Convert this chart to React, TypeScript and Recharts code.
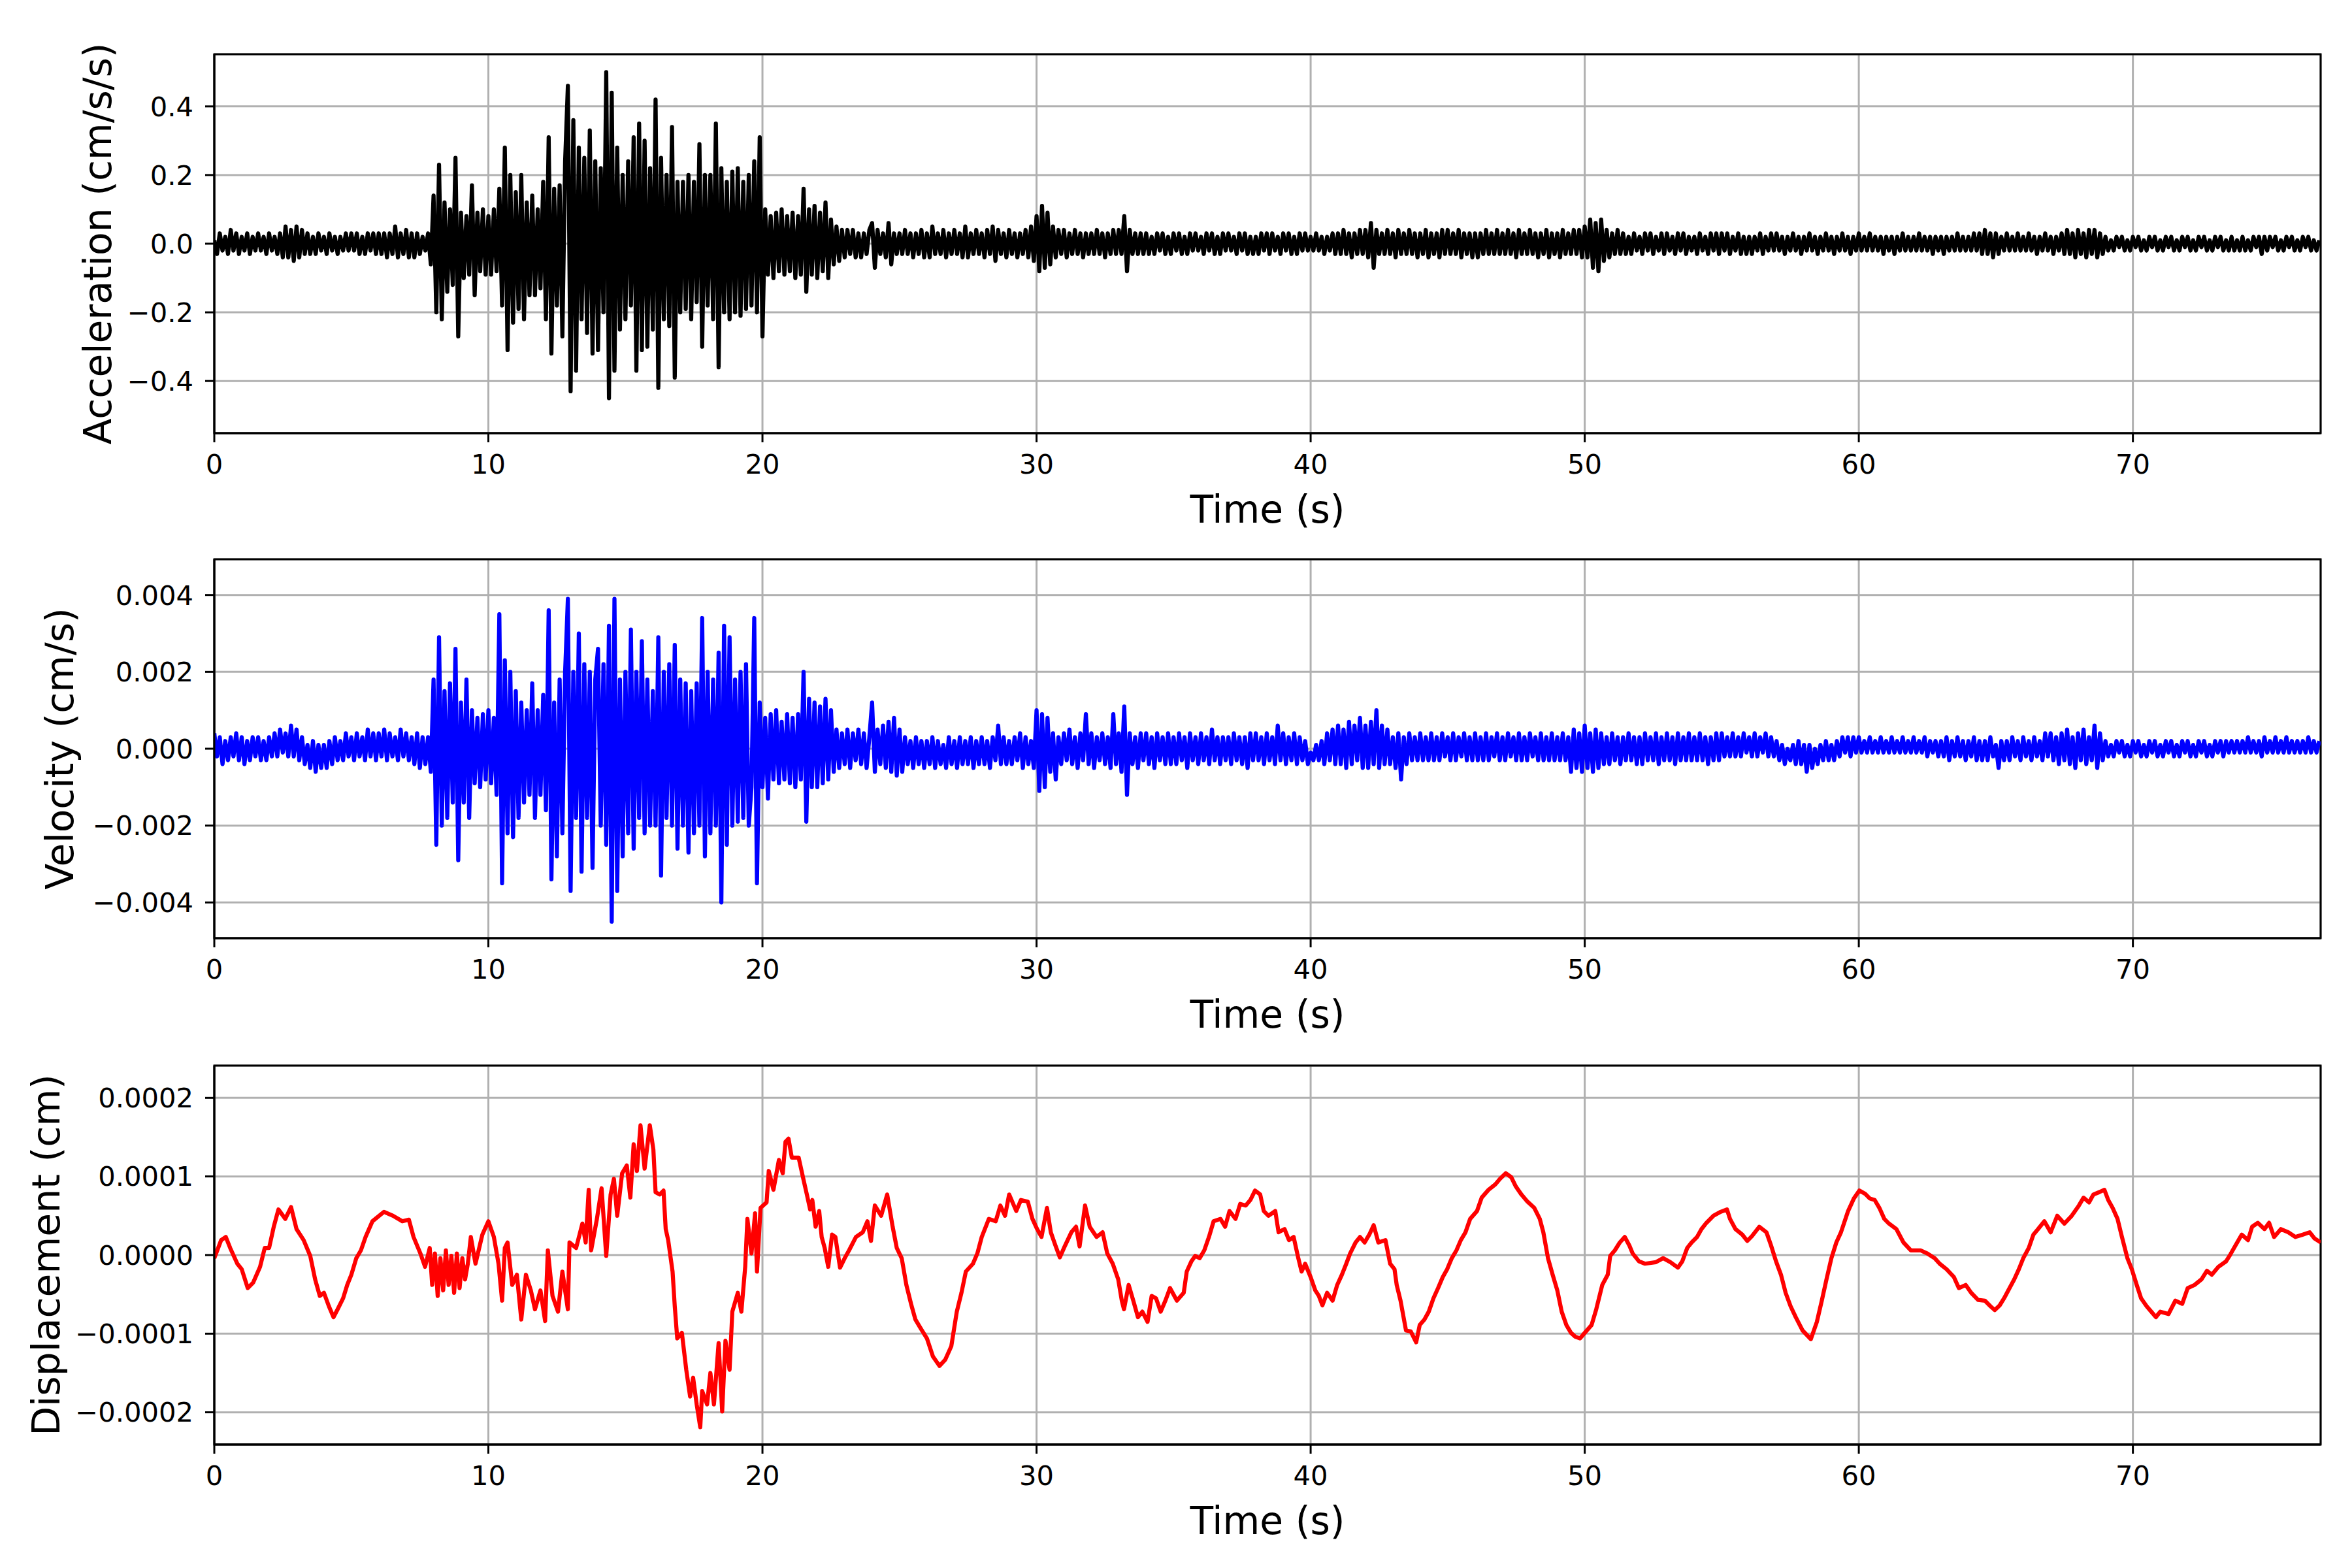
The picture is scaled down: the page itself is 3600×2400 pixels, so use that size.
import React from "react";
import {
  LineChart,
  Line,
  XAxis,
  YAxis,
  CartesianGrid,
  ReferenceArea,
  Label,
} from "recharts";

const FONT = "DejaVu Sans";
const X_TICKS = [0, 10, 20, 30, 40, 50, 60, 70];
const X_MAX = 76.85;
const SAMPLE_STEP = 0.1; // s, for acceleration and velocity

// acceleration, in 0.01 cm/s/s, one line per second
const ACCEL = [
  1, -3, 3, -2, 2, -3, 4, -2, 3, -3,
  2, -2, 3, -3, 2, -2, 3, -2, 2, -3,
  3, -2, 2, -3, 3, -4, 5, -4, 4, -5,
  5, -4, 4, -3, 3, -3, 2, -3, 3, -2,
  2, -3, 3, -2, 2, -3, 2, -2, 3, -2,
  3, -2, 3, -3, 2, -3, 3, -2, 3, -3,
  3, -3, 3, -4, 3, -3, 5, -4, 3, -3,
  4, -4, 3, -4, 3, -3, 2, -2, 3, -6,
  14, -20, 23, -22, 12, -14, 10, -12, 25, -27,
  9, -10, 8, -9, 17, -15, 9, -8, 10, -9,
  8, -9, 10, -8, 16, -18, 28, -31, 20, -23,
  15, -19, 20, -22, 12, -15, 14, -15, 10, -13,
  18, -22, 31, -32, 16, -18, 17, -27, 24, 46,
  -43, 36, -37, 28, -22, 25, -26, 33, -32, 24,
  -31, 22, -20, 50, -45, 44, -37, 28, -25, 20,
  -22, 24, -18, 31, -37, 35, -31, 30, -30, 22,
  -25, 42, -42, 25, -22, 20, -24, 34, -39, 18,
  -20, 18, -19, 20, -22, 18, -17, 29, -30, 20,
  -18, 20, -22, 35, -36, 22, -20, 18, -22, 21,
  -20, 22, -21, 18, -19, 20, -18, 24, -20, 31,
  -27, 10, -9, 8, -10, 9, -8, 10, -9, 8,
  -8, 9, -10, 8, -9, 16, -14, 10, -9, 11,
  -10, 9, -8, 12, -10, 7, -6, 5, -5, 4,
  -4, 4, -3, 4, -4, 3, -4, 3, -3, 4,
  6, -7, 4, -3, 3, -4, 6, -6, 3, -3,
  3, -3, 4, -3, 3, -4, 3, -3, 4, -4,
  3, -4, 5, -3, 3, -3, 4, -4, 3, -3,
  4, -3, 3, -4, 5, -4, 3, -3, 4, -3,
  3, -4, 4, -3, 5, -5, 4, -3, 3, -4,
  4, -3, 3, -4, 3, -3, 4, -4, 5, -5,
  8, -8, 11, -7, 9, -6, 5, -4, 4, -3,
  4, -4, 3, -3, 4, -3, 3, -4, 3, -3,
  3, -3, 4, -3, 3, -4, 3, -3, 4, -3,
  4, -3, 8, -8, 4, -3, 3, -3, 3, -3,
  3, -3, 2, -3, 3, -2, 3, -3, 2, -3,
  3, -2, 3, -3, 2, -3, 3, -2, 3, -2,
  2, -3, 3, -2, 3, -3, 2, -3, 3, -2,
  3, -2, 2, -3, 3, -2, 3, -3, 2, -3,
  2, -3, 3, -2, 3, -3, 3, -2, 2, -3,
  3, -2, 3, -3, 2, -3, 3, -2, 3, -2,
  2, -2, 3, -2, 2, -3, 2, -2, 3, -3,
  3, -3, 4, -3, 3, -4, 3, -3, 4, -3,
  4, -4, 6, -7, 4, -3, 3, -3, 4, -3,
  3, -4, 4, -3, 3, -3, 4, -3, 3, -4,
  3, -3, 4, -4, 3, -3, 3, -4, 4, -3,
  4, -3, 3, -3, 4, -4, 3, -3, 3, -4,
  3, -4, 3, -3, 4, -3, 3, -3, 4, -3,
  3, -3, 4, -3, 3, -4, 4, -3, 3, -3,
  4, -3, 3, -4, 3, -3, 4, -4, 3, -3,
  3, -4, 4, -3, 3, -3, 4, -3, 4, -4,
  5, -4, 7, -7, 6, -8, 7, -5, 4, -4,
  3, -3, 4, -3, 3, -3, 2, -3, 3, -2,
  2, -3, 3, -2, 3, -3, 2, -2, 3, -3,
  3, -2, 2, -3, 3, -2, 3, -3, 2, -2,
  2, -3, 3, -2, 2, -3, 3, -2, 3, -3,
  3, -2, 3, -3, 2, -2, 3, -3, 2, -3,
  2, -3, 2, -2, 3, -3, 2, -2, 3, -2,
  3, -2, 2, -3, 2, -2, 3, -2, 2, -3,
  2, -2, 3, -2, 2, -3, 2, -2, 3, -2,
  2, -3, 2, -2, 3, -2, 2, -3, 2, -2,
  3, -2, 2, -2, 3, -2, 2, -2, 2, -3,
  2, -2, 2, -3, 2, -2, 3, -2, 2, -2,
  2, -2, 3, -2, 2, -2, 2, -3, 2, -2,
  2, -3, 2, -2, 2, -2, 3, -2, 2, -2,
  2, -2, 3, -2, 3, -3, 4, -3, 3, -4,
  3, -3, 2, -2, 3, -2, 2, -2, 3, -2,
  2, -2, 3, -2, 2, -3, 2, -2, 3, -2,
  2, -3, 2, -2, 3, -3, 4, -3, 3, -4,
  4, -3, 3, -4, 4, -3, 4, -4, 3, -3,
  2, -2, 1, -2, 2, -1, 2, -2, 1, -2,
  2, -1, 2, -2, 1, -2, 2, -1, 2, -2,
  1, -2, 2, -1, 2, -2, 1, -2, 2, -1,
  2, -2, 1, -2, 2, -1, 2, -2, 1, -2,
  2, -1, 2, -2, 1, -2, 2, -2, 1, -2,
  2, -2, 1, -2, 2, -1, 2, -3, 2, -2,
  2, -1, 2, -2, 1, -2, 2, -1, 2, -2,
  1, -2, 2, -1, 2, -2, 1, -2, 1,
];
const ACCEL_TICKS = [-40, -20, 0, 20, 40];
const ACCEL_LABELS = ["−0.4", "−0.2", "0.0", "0.2", "0.4"];

// velocity, in 1e-4 cm/s, one line per second
const VELOCITY = [
  4, -2, 3, -4, 2, -3, 3, -2, 4, -3,
  3, -4, 2, -3, 3, -2, 3, -3, 2, -3,
  3, -2, 4, -2, 5, -1, 4, -2, 6, -2,
  5, -3, 3, -4, 1, -5, 2, -6, 1, -5,
  1, -5, 2, -4, 3, -3, 2, -3, 4, -2,
  3, -3, 4, -2, 3, -3, 5, -2, 4, -3,
  4, -2, 5, -3, 4, -2, 3, -3, 5, -2,
  4, -3, 3, -4, 4, -5, 3, -4, 3, -6,
  18, -25, 29, -20, 15, -18, 17, -14, 26, -29,
  12, -14, 18, -18, 10, -9, 8, -10, 9, -8,
  10, -9, 8, -12, 35, -35, 23, -22, 20, -23,
  15, -18, 12, -14, 10, -12, 17, -18, 10, -12,
  14, -16, 36, -34, 12, -28, 18, -22, 20, 39,
  -37, 20, -18, 30, -32, 22, -18, 20, -31, 18,
  26, -20, 22, -25, 32, -45, 39, -37, 18, -28,
  20, -22, 31, -26, 20, -18, 28, -22, 18, -20,
  15, -20, 29, -33, 20, -18, 22, -20, 27, -26,
  18, -20, 17, -27, 15, -22, 17, -20, 34, -28,
  20, -22, 18, -20, 25, -40, 32, -25, 29, -20,
  18, -19, 20, -18, 22, -20, -10, 34, -35, 12,
  -10, 8, -13, 9, -8, 10, -9, 7, -8, 9,
  -9, 8, -10, 9, -8, 20, -19, 13, -10, 12,
  -10, 11, -9, 13, -8, 10, -6, 5, -5, 4,
  -4, 5, -5, 4, -3, 5, -4, 4, -5, 3,
  12, -6, 5, -4, 6, -5, 7, -6, 8, -7,
  5, -6, 3, -4, 2, -5, 3, -4, 2, -5,
  2, -4, 3, -5, 2, -4, 1, -5, 3, -4,
  2, -5, 3, -4, 2, -4, 3, -5, 2, -4,
  3, -4, 2, -5, 3, -3, 6, -4, 3, -4,
  2, -4, 3, -3, 4, -5, 3, -4, 2, -5,
  10, -11, 9, -10, 8, -6, 4, -8, 3, -4,
  4, -3, 5, -4, 3, -5, 4, -3, 9, -4,
  4, -5, 3, -3, 4, -4, 3, -5, 9, -4,
  4, -6, 11, -12, 4, -4, 3, -5, 4, -3,
  4, -4, 3, -5, 4, -3, 3, -4, 4, -4,
  3, -4, 4, -3, 3, -5, 4, -3, 3, -4,
  4, -3, 3, -4, 5, -3, 3, -4, 3, -3,
  3, -4, 4, -3, 3, -4, 3, -5, 4, -3,
  4, -3, 3, -4, 4, -3, 3, -4, 6, -3,
  4, -4, 3, -3, 4, -4, 3, -3, 2, -4,
  -1, -3, 1, -3, 2, -4, 4, -3, 5, -4,
  6, -4, 5, -5, 7, -4, 6, -3, 8, -5,
  6, -5, 7, -4, 10, -5, 6, -4, 5, -4,
  3, -5, 4, -8, 3, -4, 4, -3, 3, -3,
  4, -3, 3, -3, 4, -3, 3, -3, 4, -2,
  3, -3, 4, -3, 3, -2, 4, -3, 3, -3,
  4, -3, 3, -3, 4, -3, 3, -2, 4, -3,
  3, -3, 4, -2, 3, -3, 4, -3, 3, -3,
  4, -2, 3, -3, 4, -3, 3, -3, 4, -3,
  3, -3, 4, -3, 3, -6, 5, -5, 4, -6,
  6, -5, 4, -6, 5, -5, 4, -4, 3, -4,
  4, -3, 3, -4, 3, -3, 4, -3, 3, -4,
  3, -4, 4, -3, 3, -3, 4, -4, 3, -3,
  4, -3, 3, -4, 4, -3, 3, -3, 4, -3,
  3, -3, 4, -3, 3, -4, 3, -3, 4, -3,
  4, -2, 3, -2, 4, -2, 3, -2, 4, -1,
  3, -2, 4, -2, 3, -1, 4, -2, 3, -2,
  2, -3, 1, -4, 0, -3, 1, -4, 2, -4,
  1, -6, 1, -5, 0, -4, 1, -3, 2, -3,
  1, -3, 2, -2, 3, -1, 3, -2, 3, -1,
  3, -1, 2, -1, 3, -1, 2, -1, 3, -1,
  2, -1, 3, -1, 2, -1, 3, -1, 2, -1,
  3, -1, 2, -1, 3, -2, 2, -1, 2, -2,
  2, -2, 3, -3, 2, -2, 3, -2, 2, -3,
  2, -2, 3, -3, 2, -3, 2, -3, 3, -2,
  1, -5, 2, -3, 2, -3, 3, -2, 2, -3,
  3, -2, 2, -3, 3, -2, 2, -3, 4, -2,
  4, -3, 3, -4, 4, -3, 5, -4, 3, -5,
  4, -3, 5, -4, 3, -3, 6, -5, 4, -3,
  2, -2, 1, -2, 2, -1, 2, -2, 1, -2,
  2, -1, 2, -2, 1, -2, 2, -1, 2, -2,
  1, -2, 2, -1, 2, -2, 1, -2, 2, -1,
  2, -2, 1, -2, 2, -1, 2, -2, 1, -2,
  2, -1, 2, -2, 2, -1, 2, -1, 2, -1,
  2, -1, 3, -1, 2, -1, 2, -2, 3, -1,
  2, -1, 3, -1, 2, -1, 3, -1, 2, -1,
  2, -1, 2, -1, 3, -1, 2, -1, 2,
];
const VELOCITY_TICKS = [-40, -20, 0, 20, 40];
const VELOCITY_LABELS = ["−0.004", "−0.002", "0.000", "0.002", "0.004"];

// displacement, in 1e-6 cm
const DISP_TIME = [
  0, 0.25, 0.42, 0.58, 0.84, 1.0, 1.22, 1.42, 1.67, 1.84, 2.0, 2.17, 2.34, 2.59, 2.8,
  3.0, 3.26, 3.5, 3.68, 3.85, 4.0, 4.18, 4.35, 4.5, 4.7, 4.85, 5.0, 5.18, 5.35, 5.52,
  5.77, 6.19, 6.52, 6.86, 7.1, 7.27, 7.52, 7.69, 7.86, 7.95, 8.05, 8.15, 8.25, 8.35, 8.45,
  8.55, 8.65, 8.75, 8.85, 8.95, 9.05, 9.15, 9.25, 9.36, 9.53, 9.78, 10.0, 10.2, 10.37, 10.5,
  10.6, 10.7, 10.87, 11.04, 11.2, 11.37, 11.55, 11.7, 11.9, 12.07, 12.17, 12.34, 12.54, 12.7, 12.9,
  12.96, 13.2, 13.43, 13.55, 13.66, 13.75, 13.96, 14.13, 14.3, 14.46, 14.58, 14.7, 14.88, 15.05, 15.18,
  15.3, 15.42, 15.55, 15.7, 15.89, 16.02, 16.1, 16.25, 16.39, 16.47, 16.56, 16.72, 16.8, 16.89, 17.06,
  17.22, 17.36, 17.47, 17.6, 17.73, 17.8, 17.98, 18.1, 18.23, 18.4, 18.53, 18.65, 18.8, 18.9, 19.1,
  19.23, 19.37, 19.45, 19.6, 19.73, 19.8, 19.93, 20.15, 20.23, 20.4, 20.6, 20.74, 20.84, 20.95, 21.07,
  21.32, 21.49, 21.62, 21.74, 21.82, 21.94, 22.07, 22.16, 22.27, 22.4, 22.54, 22.66, 22.83, 23.0, 23.16,
  23.41, 23.66, 23.83, 23.96, 24.1, 24.33, 24.55, 24.75, 24.9, 25.08, 25.25, 25.42, 25.58, 25.75, 26.0,
  26.22, 26.46, 26.67, 26.89, 27.09, 27.26, 27.42, 27.68, 27.84, 28.0, 28.26, 28.51, 28.68, 28.85, 29.0,
  29.26, 29.43, 29.68, 29.85, 30.02, 30.18, 30.38, 30.52, 30.69, 30.85, 31.0, 31.27, 31.44, 31.57, 31.77,
  31.94, 32.19, 32.41, 32.58, 32.78, 32.98, 33.11, 33.19, 33.36, 33.53, 33.7, 33.86, 34.05, 34.2, 34.36,
  34.53, 34.7, 34.87, 35.12, 35.37, 35.48, 35.65, 35.79, 35.95, 36.12, 36.29, 36.46, 36.71, 36.88, 37.04,
  37.26, 37.43, 37.63, 37.8, 37.97, 38.16, 38.29, 38.46, 38.71, 38.83, 39.05, 39.21, 39.38, 39.55, 39.67,
  39.8, 40.0, 40.17, 40.3, 40.43, 40.6, 40.8, 40.97, 41.14, 41.3, 41.44, 41.64, 41.8, 41.97, 42.14,
  42.3, 42.47, 42.73, 42.9, 43.06, 43.14, 43.28, 43.39, 43.48, 43.65, 43.85, 43.98, 44.15, 44.31, 44.48,
  44.65, 44.82, 44.98, 45.15, 45.32, 45.48, 45.65, 45.82, 46.07, 46.24, 46.49, 46.74, 46.91, 47.12, 47.32,
  47.49, 47.69, 47.91, 48.16, 48.36, 48.49, 48.66, 48.83, 49.0, 49.16, 49.33, 49.5, 49.66, 49.83, 50.0,
  50.25, 50.42, 50.64, 50.84, 50.93, 51.1, 51.28, 51.46, 51.63, 51.75, 51.98, 52.2, 52.6, 52.86, 53.12,
  53.4, 53.56, 53.74, 53.9, 54.1, 54.26, 54.44, 54.7, 54.96, 55.19, 55.3, 55.5, 55.75, 55.93, 56.1,
  56.37, 56.63, 56.8, 56.98, 57.16, 57.33, 57.51, 57.7, 57.95, 58.25, 58.47, 58.65, 58.82, 59.0, 59.18,
  59.35, 59.61, 59.82, 60.02, 60.23, 60.4, 60.58, 60.75, 60.93, 61.1, 61.37, 61.63, 61.9, 62.25, 62.5,
  62.77, 62.95, 63.2, 63.47, 63.65, 63.9, 64.1, 64.35, 64.6, 64.8, 64.96, 65.14, 65.3, 65.5, 65.67,
  65.84, 66.0, 66.2, 66.37, 66.54, 66.77, 67.0, 67.24, 67.5, 67.77, 68.03, 68.2, 68.4, 68.56, 68.77,
  68.96, 69.1, 69.26, 69.44, 69.6, 69.8, 69.96, 70.14, 70.3, 70.5, 70.67, 70.84, 71.0, 71.3, 71.55,
  71.8, 72.0, 72.25, 72.5, 72.7, 72.88, 73.12, 73.4, 73.56, 73.74, 73.97, 74.2, 74.35, 74.56, 74.8,
  74.97, 75.15, 75.4, 75.67, 75.93, 76.2, 76.45, 76.63, 76.85,
];
const DISP_VALUE = [
  -4, 19, 23, 9, -11, -18, -42, -35, -15, 9, 9, 36, 58, 46, 61,
  33, 19, -1, -31, -52, -48, -65, -79, -69, -55, -38, -25, -4, 6, 23,
  43, 55, 50, 43, 45, 23, 2, -15, 9, -38, 2, -52, -4, -45, 6,
  -38, -1, -48, 2, -42, -4, -31, -11, 23, -11, 26, 43, 23, -11, -58,
  9, 16, -38, -25, -82, -25, -45, -69, -45, -84, 6, -52, -72, -21, -69,
  16, 9, 40, 16, 83, 6, 46, 85, -1, 77, 97, 50, 104, 114, 73,
  141, 107, 165, 110, 165, 134, 80, 77, 82, 33, 19, -21, -65, -106, -99,
  -146, -180, -156, -190, -219, -173, -190, -150, -190, -112, -199, -109, -146, -72, -48,
  -72, -15, 46, 2, 53, -21, 60, 67, 107, 83, 121, 104, 144, 148, 124,
  124, 97, 77, 58, 70, 36, 56, 23, 9, -15, 26, 23, -16, -4, 6,
  23, 29, 43, 18, 63, 50, 77, 36, 9, -4, -38, -62, -82, -92, -106,
  -129, -141, -133, -116, -72, -48, -21, -11, 2, 23, 46, 43, 63, 50, 77,
  56, 70, 68, 46, 33, 23, 60, 29, 12, -3, 9, 29, 36, 11, 63,
  36, 23, 29, 2, -11, -31, -58, -69, -38, -58, -79, -72, -85, -52, -55,
  -72, -58, -42, -58, -48, -21, -8, -1, -4, 6, 23, 43, 46, 36, 56,
  46, 65, 63, 70, 82, 77, 56, 50, 56, 29, 33, 19, 23, -4, -21,
  -11, -28, -45, -52, -64, -48, -58, -38, -25, -11, 2, 16, 23, 16, 26,
  38, 16, 19, -11, -18, -38, -58, -79, -96, -97, -111, -89, -82, -72, -55,
  -42, -28, -18, -4, 6, 19, 29, 46, 56, 73, 83, 90, 97, 104, 99,
  87, 77, 68, 60, 46, 29, -4, -25, -45, -72, -89, -99, -104, -106, -99,
  -89, -69, -38, -25, -1, 6, 16, 23, 12, 2, -8, -11, -9, -4, -9,
  -16, -8, 9, 16, 23, 33, 41, 50, 55, 58, 46, 33, 26, 18, 24,
  36, 29, 12, -8, -25, -48, -65, -79, -96, -107, -85, -58, -31, -4, 16,
  29, 56, 72, 82, 78, 72, 70, 60, 46, 40, 33, 16, 6, 6, 2,
  -4, -11, -18, -28, -42, -38, -48, -57, -58, -65, -70, -64, -55, -42, -31,
  -18, -4, 9, 26, 33, 43, 29, 50, 40, 50, 63, 73, 67, 77, 80,
  83, 70, 60, 46, 23, -4, -18, -38, -55, -65, -72, -79, -72, -75, -58,
  -62, -42, -38, -31, -20, -25, -15, -8, 1, 12, 26, 19, 36, 41, 33,
  41, 23, 33, 29, 23, 26, 29, 21, 16,
];
const DISP_TICKS = [-200, -100, 0, 100, 200];
const DISP_LABELS = ["−0.0002", "−0.0001", "0.0000", "0.0001", "0.0002"];

const accelData = ACCEL.map((v, i) => ({ t: +(i * SAMPLE_STEP).toFixed(1), v }));
const velocityData = VELOCITY.map((v, i) => ({ t: +(i * SAMPLE_STEP).toFixed(1), v }));
const dispData = DISP_TIME.map((t, i) => ({ t, v: DISP_VALUE[i] }));

const CHART_W = 3600;
const CHART_H = 820;
const PLOT_TOP = 83;
const PLOT_H = 580;
const PLOT_LEFT = 328;
const PLOT_RIGHT = 3552;
const TITLE_SIZE = 58.3;
const TICK_SIZE = 41.7;

interface PanelProps {
  top: number;
  data: { t: number; v: number }[];
  color: string;
  yMax: number;
  ticks: number[];
  labels: string[];
  title: string;
  titleX: number;
}

function Panel({ top, data, color, yMax, ticks, labels, title, titleX }: PanelProps) {
  const tickText = { fill: "#000", fontSize: TICK_SIZE, fontFamily: FONT };
  const midY = PLOT_TOP + PLOT_H / 2;
  return (
    <div style={{ position: "absolute", left: 0, top }}>
      <LineChart
        width={CHART_W}
        height={CHART_H}
        data={data}
        margin={{ top: PLOT_TOP, right: CHART_W - PLOT_RIGHT, bottom: 0, left: 0 }}
      >
        <CartesianGrid stroke="#b0b0b0" strokeWidth={3} />
        <XAxis
          dataKey="t"
          type="number"
          domain={[0, X_MAX]}
          ticks={X_TICKS}
          interval={0}
          allowDataOverflow
          height={CHART_H - PLOT_TOP - PLOT_H}
          tickSize={14}
          tickMargin={18}
          tick={tickText}
          axisLine={{ stroke: "#000", strokeWidth: 3 }}
          tickLine={{ stroke: "#000", strokeWidth: 3 }}
        >
          <Label
            content={() => (
              <text
                x={(PLOT_LEFT + PLOT_RIGHT) / 2}
                y={PLOT_TOP + PLOT_H + 137}
                textAnchor="middle"
                fontSize={TITLE_SIZE}
                fontFamily={FONT}
                fill="#000"
              >
                Time (s)
              </text>
            )}
          />
        </XAxis>
        <YAxis
          type="number"
          domain={[-yMax, yMax]}
          ticks={ticks}
          interval={0}
          allowDataOverflow
          width={PLOT_LEFT}
          tickSize={14}
          tickMargin={18}
          tick={tickText}
          tickFormatter={(v: number) => labels[ticks.indexOf(v)] ?? ""}
          axisLine={{ stroke: "#000", strokeWidth: 3 }}
          tickLine={{ stroke: "#000", strokeWidth: 3 }}
        >
          <Label
            content={() => (
              <text
                x={titleX}
                y={midY}
                transform={`rotate(-90 ${titleX} ${midY})`}
                textAnchor="middle"
                fontSize={TITLE_SIZE}
                fontFamily={FONT}
                fill="#000"
              >
                {title}
              </text>
            )}
          />
        </YAxis>
        <Line
          type="linear"
          dataKey="v"
          stroke={color}
          strokeWidth={6.25}
          strokeLinejoin="round"
          dot={false}
          activeDot={false}
          isAnimationActive={false}
        />
        <ReferenceArea
          x1={0}
          x2={X_MAX}
          y1={-yMax}
          y2={yMax}
          fill="none"
          stroke="#000"
          strokeWidth={3}
        />
      </LineChart>
    </div>
  );
}

export default function App() {
  return (
    <div
      style={{
        position: "absolute",
        left: 0,
        top: 0,
        width: CHART_W,
        height: 2400,
        background: "#fff",
        overflow: "hidden",
      }}
    >
      <Panel
        top={0}
        data={accelData}
        color="#000000"
        yMax={55.2}
        ticks={ACCEL_TICKS}
        labels={ACCEL_LABELS}
        title="Acceleration (cm/s/s)"
        titleX={170}
      />
      <Panel
        top={773}
        data={velocityData}
        color="#0000ff"
        yMax={49.3}
        ticks={VELOCITY_TICKS}
        labels={VELOCITY_LABELS}
        title="Velocity (cm/s)"
        titleX={112}
      />
      <Panel
        top={1548}
        data={dispData}
        color="#ff0000"
        yMax={241}
        ticks={DISP_TICKS}
        labels={DISP_LABELS}
        title="Displacement (cm)"
        titleX={91}
      />
    </div>
  );
}
